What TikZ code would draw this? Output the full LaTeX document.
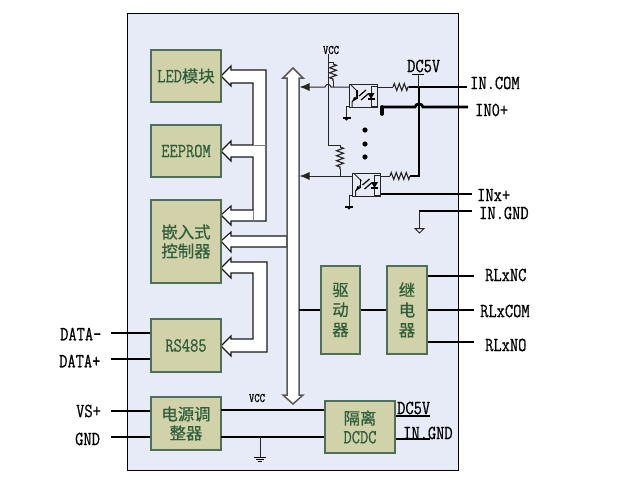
\documentclass[tikz,border=0pt]{standalone}
\usepackage{fontspec}
\setmonofont[FakeStretch=0.8,FakeBold=0.6]{Latin Modern Mono}
\newfontfamily\cjk[Scale=0.82,FakeBold=0.5]{Noto Sans CJK SC}
\usetikzlibrary{positioning,calc,arrows.meta,decorations.pathmorphing}
\definecolor{panelbg}{HTML}{E6EBF7}
\definecolor{boxbg}{HTML}{D1D2AA}
\definecolor{boxline}{HTML}{4E7058}
\definecolor{boxtext}{HTML}{2E5E3A}
\tikzset{blk/.style={draw=boxline,fill=boxbg,line width=1.2pt,inner sep=0pt,text=boxtext,align=center,font=\ttfamily\fontsize{20}{20}\selectfont}}
\tikzset{lbl/.style={inner sep=0pt,anchor=west,font=\ttfamily\fontsize{20}{20}\selectfont}}
\tikzset{tiny/.style={inner sep=0pt,font=\ttfamily\fontsize{13}{13}\selectfont}}
\tikzset{wire/.style={line width=2.8pt}}
\tikzset{thinw/.style={line width=1pt,draw=black!85}}
\tikzset{hollow/.style={draw=black!90,fill=white,line width=1.1pt,line join=miter}}
\tikzset{res/.style={thinw,line width=1.1pt,decorate,decoration={zigzag,segment length=5pt,amplitude=3.5pt}}}
\tikzset{>={Latex[length=10pt,width=8pt]}}
% ground with a small bar
\newcommand{\gndbar}[2]{\draw[line width=1.4pt] (#1-4,#2) -- (#1+4,#2); \fill (#1-2.5,#2) -- (#1+2.5,#2) -- (#1,#2+2.5) -- cycle;}
% inside of the coupler
\newcommand{\optocell}[2]{
	\begin{scope}[shift={(#1,#2)}]
		\draw[thinw] (2,1) -- (9,8);
		\draw[line width=1.7pt] (8,6) -- (8,15);
		\draw[thinw] (3,23) -- (3,18) -- (8,12);
		\fill (3,18) -- (8,15) -- (5,13) -- cycle;
		\draw[line width=1.2pt] (10,12) -- (17,6) (12,16) -- (19,10);
		\draw[thinw] (28,2) -- (22,2) -- (22,22) -- (28,22);
		\fill (18.5,9) -- (25.5,9) -- (22,15) -- cycle;
		\draw[line width=1.2pt] (18.5,15) -- (25.5,15);
	\end{scope}
}
\begin{document}
\begin{tikzpicture}[x=1pt,y=-1pt]
	\useasboundingbox (0,0) rectangle (629,480);
	\fill[white] (0,0) rectangle (629,480);
	\draw[fill=panelbg,line width=1pt] (127,13) rectangle (458,470);

	% hollow arrows on the left
	\draw[hollow] (221,76) -- (231,66) -- (231,70) -- (266,70) -- (266,221) -- (231,221) -- (231,225) -- (221,215) -- (231,206) -- (231,210) -- (253,210) -- (253,157) -- (231,157) -- (231,161) -- (221,151) -- (231,141) -- (231,145) -- (253,145) -- (253,83) -- (231,83) -- (231,86) -- cycle;
	\draw[black!50,line width=.7pt] (253,145) -- (266,145) (253,210) -- (253,221);
	\draw[hollow] (221,241) -- (231,232) -- (231,236) -- (287,236) -- (287,247) -- (231,247) -- (231,252) -- cycle;
	\draw[hollow] (221,268) -- (231,258) -- (231,262) -- (267,262) -- (267,352) -- (231,352) -- (231,356) -- (221,346) -- (231,336) -- (231,339) -- (253,339) -- (253,273) -- (231,273) -- (231,278) -- cycle;
	% bus
	\draw[hollow,draw=black!65,line width=1.5pt] (293,68) -- (303,78) -- (299,78) -- (299,395) -- (303,395) -- (293,404) -- (283,395) -- (287,395) -- (287,78) -- (283,78) -- cycle;

	% blocks
	\node[blk,minimum width=70,minimum height=52] (led) at (186,76) {LED{\cjk 模块}};
	\node[blk,minimum width=70,minimum height=52] (eeprom) at (186,151) {EEPROM};
	\node[blk,minimum width=70,minimum height=83] (mcu) at (186,241.5) {\cjk 嵌入式\\[-1pt]\cjk 控制器};
	\node[blk,minimum width=70,minimum height=53] (rs485) at (186,345.5) {RS485};
	\node[blk,minimum width=70,minimum height=53] (ldo) at (186,423.5) {\cjk 电源调\\[-1pt]\cjk 整器};
	\node[blk,minimum width=39,minimum height=88] (drv) at (340.5,310) {\cjk 驱\\\cjk 动\\\cjk 器};
	\node[blk,minimum width=40,minimum height=88] (relay) at (407,310) {\cjk 继\\\cjk 电\\\cjk 器};
	\node[blk,minimum width=70,minimum height=52] (dcdc) at (360,427) {\cjk 隔离\\[-1pt]DCDC};

	% left side terminals
	\node[lbl] (datam) at (60,334) {DATA-};
	\node[lbl] (datap) at (59,361) {DATA+};
	\node[lbl] (vsp) at (76,411) {VS+};
	\node[lbl] (gnd) at (75,439) {GND};
	\coordinate (dm) at (111,333);
	\coordinate (dp) at (111,359);
	\coordinate (vs) at (111,411);
	\coordinate (gn) at (111,437);
	\draw[wire] (dm) -- (dm -| rs485.west);
	\draw[wire] (dp) -- (dp -| rs485.west);
	\draw[wire] (vs) -- (vs -| ldo.west);
	\draw[wire] (gn) -- (gn -| ldo.west);

	% power rails
	\node[tiny] (vcc) at (257,398) {VCC};
	\coordinate (rail) at (221,410);
	\coordinate (railg) at (221,437);
	\coordinate (gt) at (260,437);
	\coordinate (gb) at (260,457);
	\draw[wire,line width=2.2pt] (rail) -- (rail -| dcdc.west);
	\draw[wire] (railg) -- (railg -| dcdc.west);
	\draw[thinw] (gt) -- (gb);
	\draw[line width=1pt] (254,457.5) -- (266,457.5) (256,459.5) -- (264,459.5) (258,461) -- (262,461);

	% dcdc outputs
	\node[lbl] (dc5v) at (397,408) {DC5V};
	\node[lbl] (ingnd) at (403,433) {IN.GND};
	\coordinate (dco) at (430,416);
	\coordinate (gno) at (430,439);
	\draw[line width=1.8pt] (dco -| dcdc.east) -- (dco);
	\draw[wire] (gno -| dcdc.east) -- (gno);

	% driver and relay
	\coordinate (busr) at (299,310);
	\coordinate (nc) at (474,276);
	\coordinate (com) at (474,310);
	\coordinate (no) at (474,342);
	\draw[wire] (busr) -- (drv.west);
	\draw[wire] (drv.east) -- (relay.west);
	\draw[wire] (nc -| relay.east) -- (nc);
	\draw[wire] (relay.east) -- (com);
	\draw[wire] (no -| relay.east) -- (no);
	\node[lbl] (rlnc) at (485,275) {RLxNC};
	\node[lbl] (rlcom) at (480,311) {RLxCOM};
	\node[lbl] (rlno) at (485,345) {RLxNO};

	% input couplers
	\node[draw=black!85,line width=1pt,minimum width=28,minimum height=23,inner sep=0pt] (opto1) at (363,95.5) {};
	\node[draw=black!85,line width=1pt,minimum width=28,minimum height=23,inner sep=0pt] (opto2) at (366.5,184.5) {};
	\optocell{349}{84}
	\optocell{352.5}{173}
	\coordinate (bus1) at (299.5,87);
	\coordinate (bus2) at (299.5,176);
	\draw[thinw,->] (349,87) -- (331,87) .. controls (330,83.5) and (326,83.5) .. (325,87) -- (bus1);
	\draw[thinw,->] (opto2.west |- bus2) -- (bus2);

	% pull-ups from vcc
	\node[tiny] (vcc2) at (331,50) {VCC};
	\coordinate (vt) at (328,54);
	\coordinate (vk) at (328,145);
	\coordinate (r1t) at (333,62);
	\coordinate (r1b) at (333,87);
	\coordinate (r2t) at (340,145);
	\coordinate (r2b) at (340,176);
	\draw[thinw] (vt) -- (vk) -- (r2t) -- ++(0,2);
	\draw[res] (340,147) -- (340,169);
	\draw[thinw] (340,169) -- (r2b);
	\draw[thinw] (328,62) -- (r1t) -- ++(0,2);
	\draw[res] (333,64) -- (333,81);
	\draw[thinw] (333,81) -- (r1b);

	% series resistors
	\coordinate (k1) at (419,87);
	\coordinate (k2) at (419,176);
	\coordinate (inc) at (467,87);
	\draw[thinw] (opto1.east |- k1) -- (393,87);
	\draw[res] (393,87) -- (409,87);
	\draw[thinw] (opto2.east |- k2) -- (390,176);
	\draw[res] (390,176) -- (410,176);
	\draw[wire] (409,87) -- (inc);
	\draw[wire] (k1) -- (k2) -- (410,176);

	% dc5v tap
	\coordinate (dct) at (418,74);
	\draw[thinw] (dct) -- (418,87);
	\draw[line width=1pt] (412,74) -- (424,74);
	\node[lbl] (dcin) at (407,66) {DC5V};

	% channel inputs
	\coordinate (in0a) at (382,107);
	\coordinate (in0) at (468,107);
	\coordinate (inx) at (472,194);
	\coordinate (ing) at (472,211);
	\coordinate (ingl) at (419,211);
	\coordinate (ingb) at (419,228);
	\draw[wire] (in0a) -- (415,107) .. controls (416,103) and (422,103) .. (423,107) -- (in0);
	\draw[line width=3.6pt,line cap=round] (in0a) -- (382,114);
	\draw[wire,line width=2.2pt] (opto2.east |- inx) -- (inx);
	\draw[wire] (ingl) -- (ing);
	\draw[thinw] (ingl) -- (ingb);
	\draw[thinw,fill=panelbg] (415,228.5) -- (424,228.5) -- (419.5,233) -- cycle;
	\node[lbl] (incom) at (470,83) {IN.COM};
	\node[lbl] (in0l) at (475,110) {IN0+};
	\node[lbl] (inxl) at (477,195) {INx+};
	\node[lbl] (ingl2) at (479,213) {IN.GND};

	% coupler grounds
	\draw[thinw] (349,106) -- (346.5,106) -- (346.5,118);
	\gndbar{346.5}{118}
	\draw[thinw] (353,195) -- (349,195) -- (349,207);
	\gndbar{349}{207}

	% dots between channels
	\foreach \yy in {130,144,157} \fill (365,\yy) circle (2.6);
\end{tikzpicture}
\end{document}
